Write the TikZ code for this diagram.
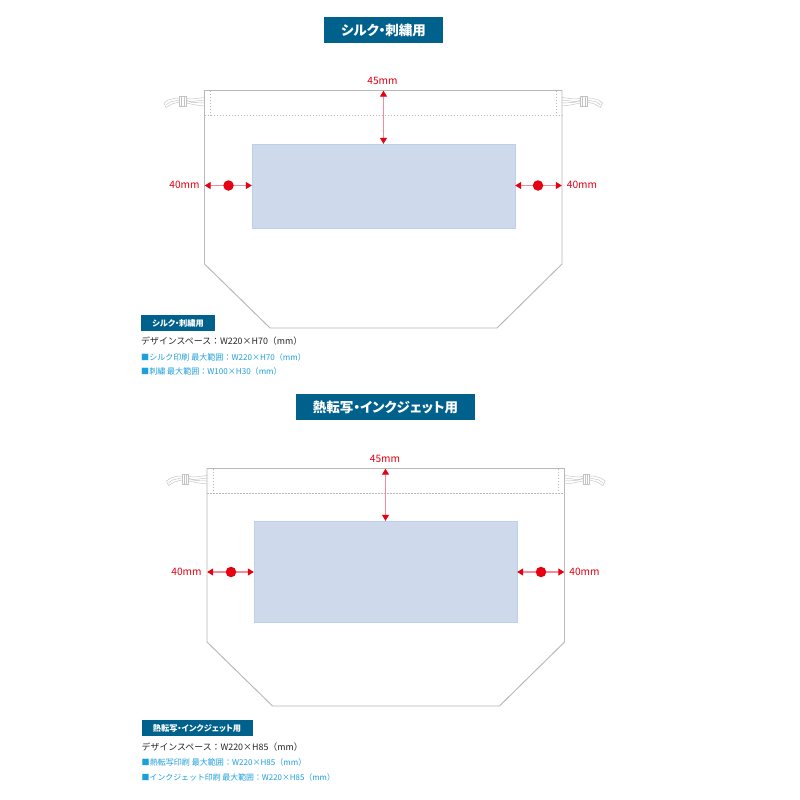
\documentclass[tikz,border=0pt]{standalone}
\usepackage{fontspec}
\setmainfont{Noto Sans CJK JP}
\newfontfamily\tightfont[RawFeature={+palt}]{Noto Sans CJK JP}
\usetikzlibrary{arrows.meta}
\definecolor{headblue}{HTML}{00618C}
\definecolor{infocyan}{HTML}{1C9FDC}
\definecolor{dimred}{HTML}{E60012}
\definecolor{dimline}{HTML}{F28C9A}
\definecolor{bagline}{HTML}{B8B8B8}
\definecolor{printfill}{HTML}{CFD9EC}
\definecolor{printedge}{HTML}{BCD0EA}
\tikzset{
  bagedge/.style={draw=bagline,line width=0.95pt},
  foldline/.style={draw=bagline,line width=0.6pt,dash pattern=on 1.5pt off 1.5pt},
  cordline/.style={draw=bagline!85,line width=0.45pt,fill=white},
  printarea/.style={draw=printedge,line width=0.5pt,fill=printfill,inner sep=0pt,outer sep=0pt},
  headbox/.style={fill=headblue,text=white,font=\tightfont\bfseries\fontsize{13.5}{14}\selectfont,inner sep=0pt,anchor=center},
  subbox/.style={fill=headblue,text=white,font=\tightfont\bfseries\fontsize{8.2}{9}\selectfont,inner sep=0pt,anchor=center},
  infoblack/.style={text=black!85,font=\fontsize{8.9}{10}\selectfont,anchor=west,inner sep=0pt},
  infoblue/.style={text=infocyan,font=\fontsize{8.05}{9}\selectfont,anchor=west,inner sep=0pt},
  dimlabel/.style={text=dimred,font=\fontsize{10.2}{11}\selectfont,inner sep=0pt},
  dimarrow/.style={draw=dimline,line width=1.1pt,{Triangle[length=6pt,width=7pt,color=dimred]}-{Triangle[length=6pt,width=7pt,color=dimred]},shorten <=0.2pt,shorten >=0.2pt},
  dimdot/.style={circle,fill=dimred,minimum size=10.5pt,inner sep=0pt,outer sep=0pt},
}
\newcommand{\cordshape}{%
  \draw[cordline] (204.5,97.5) -- (192,99) -- (186,98.5) -- (176,98) -- (168,100) -- (164,103) -- (166,107.5) -- (172,104) -- (179,102) -- (186,103) -- (196,105) -- (204.5,106);
  \draw[cordline,fill=none] (204.5,100) -- (192,101.5) -- (186,101);
  \draw[cordline,fill=none] (204.5,103) -- (192,102.5) -- (186,100);
  \draw[cordline,fill=none] (179,100) -- (170,102) -- (166,105);
  \draw[cordline] (179.5,96) rectangle (186,106);
  \draw[cordline,fill=none] (181.5,96) -- (181.5,106) (184,96) -- (184,106);
}
\newcommand{\bagshape}{%
  \begin{scope}\cordshape\end{scope}
  \begin{scope}[xshift=766.5pt,xscale=-1]\cordshape\end{scope}
  \draw[bagedge] (204.5,90.5) -- (562,90.5) -- (562,264) -- (497,328) -- (270,328) -- (204.5,264) -- cycle;
  \draw[foldline] (204.5,115.5) -- (562,115.5);
  \draw[foldline] (210.5,90.5) -- (210.5,115.5);
  \draw[foldline] (556,90.5) -- (556,115.5);
}
\begin{document}
\begin{tikzpicture}[x=1pt,y=-1pt]
\useasboundingbox (0,0) rectangle (800,800);
\fill[white] (0,0) rectangle (800,800);

% ---------- upper bag ----------
\node[headbox,minimum width=119pt,minimum height=26pt] (h1) at (383.5,30) {シルク・刺繍用};
\begin{scope}\bagshape\end{scope}
\node[printarea,minimum width=263pt,minimum height=84pt] (p1) at (383.5,186) {};
\coordinate (t1) at (383.5,90.5);
\coordinate (l1) at (204.5,185.5);
\coordinate (r1) at (562,185.5);
\draw[dimarrow] (t1) -- (t1 |- p1.north);
\draw[dimarrow] (l1) -- (l1 -| p1.west);
\draw[dimarrow] (r1 -| p1.east) -- (r1);
\node[dimdot] (d1a) at (228.5,185.5) {};
\node[dimdot] (d1b) at (538,185.5) {};
\node[dimlabel] (m1t) at (382.5,81) {45mm};
\node[dimlabel] (m1l) at (184.5,185) {40mm};
\node[dimlabel] (m1r) at (582,185) {40mm};
\node[subbox,minimum width=74pt,minimum height=16pt] (s1) at (178,323) {シルク・刺繍用};
\node[infoblack] (a1) at (141,341.5) {デザインスペース：W220×H70（mm）};
\node[infoblue] (b1) at (141,357) {■シルク印刷 最大範囲：W220×H70（mm）};
\node[infoblue] (c1) at (141,371.5) {■刺繍 最大範囲：W100×H30（mm）};

% ---------- lower bag ----------
\node[headbox,minimum width=179pt,minimum height=26pt] (h2) at (385.5,407) {熱転写・インクジェット用};
\begin{scope}[xshift=2.5pt,yshift=-378pt]\bagshape\end{scope}
\node[printarea,minimum width=263pt,minimum height=101pt] (p2) at (385.5,571.5) {};
\coordinate (t2) at (385.5,468.5);
\coordinate (l2) at (207,572);
\coordinate (r2) at (564.5,572);
\draw[dimarrow] (t2) -- (t2 |- p2.north);
\draw[dimarrow] (l2) -- (l2 -| p2.west);
\draw[dimarrow] (r2 -| p2.east) -- (r2);
\node[dimdot] (d2a) at (231,572) {};
\node[dimdot] (d2b) at (541,572) {};
\node[dimlabel] (m2t) at (385,459) {45mm};
\node[dimlabel] (m2l) at (186.5,572) {40mm};
\node[dimlabel] (m2r) at (584.5,572) {40mm};
\node[subbox,minimum width=111pt,minimum height=16pt] (s2) at (197,728) {熱転写・インクジェット用};
\node[infoblack] (a2) at (141.5,747) {デザインスペース：W220×H85（mm）};
\node[infoblue] (b2) at (141.5,762) {■熱転写印刷 最大範囲：W220×H85（mm）};
\node[infoblue,font=\fontsize{7.9}{9}\selectfont] (c2) at (141.5,777) {■インクジェット印刷 最大範囲：W220×H85（mm）};
\end{tikzpicture}
\end{document}
